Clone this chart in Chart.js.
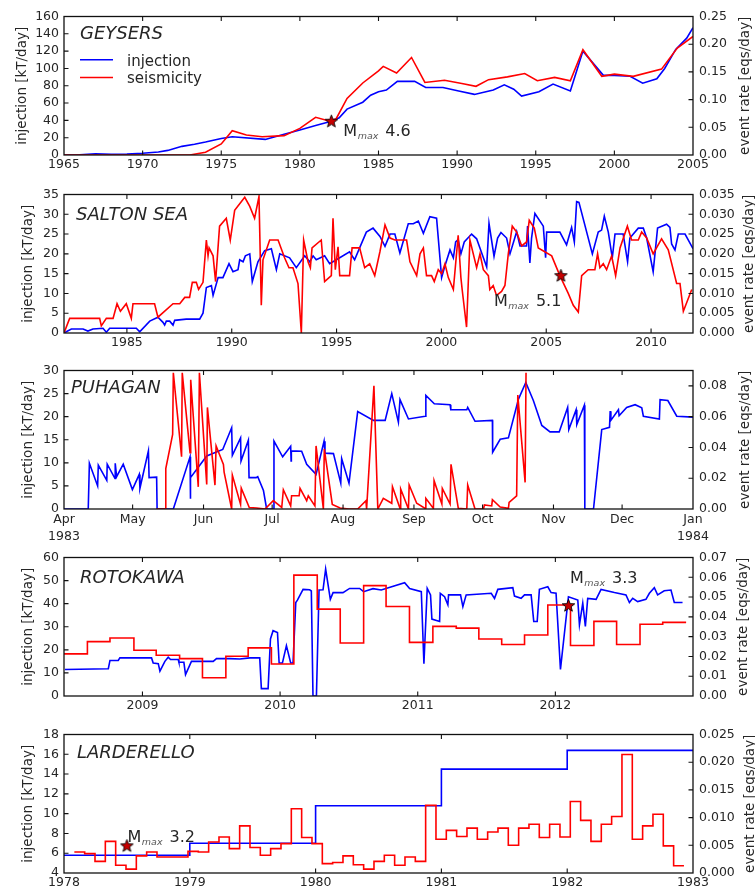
<!DOCTYPE html>
<html><head><meta charset="utf-8">
<script src="https://cdn.jsdelivr.net/npm/chart.js@4.4.1/dist/chart.umd.min.js"></script>
<style>
html,body{margin:0;padding:0;background:#fff;overflow:hidden}
#wrap{position:relative;width:755px;height:893px;overflow:hidden;background:#fff}
#wrap canvas{position:absolute;left:0}
</style></head><body><div id="wrap"></div>
<script>
// ---------------- DATA ----------------
const Y_TITLE = 'injection [kT/day]';
const Y2_TITLE = 'event rate [eqs/day]';
const LEGEND_LABELS = ['injection', 'seismicity'];

// GEYSERS
const GEY_INJ_YEAR = [1965,1966,1967,1968,1969,1970,1971,1971.6,1972.5,1973.3,1974,1975,1975.7,1977.8,1979,1980,1981,1982,1982.5,1983,1984,1984.5,1985,1985.5,1986.2,1987.3,1988,1989.1,1990.1,1991.1,1992.3,1993,1993.6,1994.1,1995.2,1996.1,1997.2,1997.6,1998,1999.3,2000,2001,2001.8,2002.7,2003.2,2003.9,2004.6,2005];
const GEY_INJ = [0,0.3,1.5,0.8,1,2,3.5,5.3,10,12.5,15,19,21,18,24,29,34,39,43,53,61,69,73,75,85,85,78,78,74,70,75,81,76,68,73,82,74,97,120,92,92,91,83,88,100,122,135,147];
const GEY_SEIS_YEAR = [1965,1973,1974,1975,1975.7,1976.6,1977.6,1979,1980,1981,1981.8,1982.3,1983,1984,1985,1985.3,1986.15,1987.1,1987.95,1989.2,1990.3,1991.2,1992,1993.2,1994.3,1995.1,1996.2,1997.2,1998,1999.2,2000,2001.2,2003,2004,2005];
const GEY_SEIS = [0,0,0.005,0.020,0.044,0.036,0.033,0.035,0.048,0.068,0.062,0.065,0.102,0.130,0.152,0.160,0.148,0.176,0.131,0.135,0.129,0.124,0.136,0.141,0.147,0.134,0.140,0.134,0.190,0.142,0.146,0.142,0.155,0.193,0.214];
const GEY_MMAX = {x:1982, y:39, label:'4.6'};
const GEY_XTICKS = ['1965','1970','1975','1980','1985','1990','1995','2000','2005'];
const GEY_YTICKS = ['0','20','40','60','80','100','120','140','160'];
const GEY_Y2TICKS = ['0.00','0.05','0.10','0.15','0.20','0.25'];

// SALTON SEA
const SAL_INJ_YEAR = [1982.00,1982.35,1982.91,1983.14,1983.38,1983.86,1984.02,1984.18,1985.45,1985.61,1986.09,1986.48,1986.72,1986.80,1986.88,1987.04,1987.20,1987.28,1987.83,1988.47,1988.63,1988.79,1989.03,1989.11,1989.35,1989.58,1989.87,1990.06,1990.30,1990.38,1990.54,1990.65,1990.86,1990.98,1991.25,1991.57,1991.89,1992.13,1992.29,1992.76,1993.08,1993.48,1993.72,1993.88,1994.03,1994.43,1994.67,1994.99,1995.62,1995.86,1996.10,1996.42,1996.74,
 1997.07,1997.31,1997.55,1997.78,1998.02,1998.42,1998.66,1998.90,1999.14,1999.45,1999.77,2000.01,2000.17,2000.41,2000.57,2000.68,2000.80,2000.93,2001.09,2001.44,2001.68,2002.16,2002.27,2002.51,2002.68,2002.84,2003.11,2003.27,2003.59,2003.75,2004.06,2004.11,2004.22,2004.30,2004.46,2004.86,2004.97,2005.02,2005.65,2005.97,2006.21,2006.34,2006.45,2006.56,2007.20,2007.48,2007.64,2007.77,2007.96,2008.15,2008.28,2008.67,2008.88,2008.99,2009.39,2009.63,2009.79,2010.10,2010.31,2010.74,2010.90,2010.98,2011.14,2011.30,2011.62,2012.00];
const SAL_INJ = [0,1,1,0.5,1,1.2,0.2,1.2,1.2,0.3,3,4,2.7,2,3,3,2,3.2,3.5,3.5,5,11.5,12,9.5,14,14,17.5,15.5,16,18.5,18,19.5,20,13,18,20.8,21.3,16,20,19,16.5,19.5,18,19.5,18.5,19.5,17.5,18.5,20.5,18.5,21.5,25.5,26.5,
 24.4,21.9,25,25,20.2,27.6,27.6,28.3,25.2,29.4,29,14,17,21,19,23,23.6,20,23,25,23.8,16.7,27.7,19.4,24,25.4,24,20,25.6,22,22,27,17.7,24,30.2,27,19,25.5,25.5,22.3,26.7,23,33.2,33,20,25.5,26,29.5,25.5,19,25,25,18,24,26.5,26.5,24,15.5,26.5,27.5,26.7,22.5,21,25,25,21.3];
const SAL_SEIS_YEAR = [1982.00,1982.27,1983.70,1983.78,1984.02,1984.34,1984.53,1984.69,1984.97,1985.21,1985.29,1986.32,1986.48,1987.20,1987.52,1987.76,1987.99,1988.12,1988.31,1988.42,1988.63,1988.79,1988.87,1988.92,1989.11,1989.23,1989.42,1989.74,1989.93,1990.14,1990.62,1990.86,1991.09,1991.30,1991.41,1991.49,1991.81,1992.21,1992.52,1992.73,1992.92,1993.16,1993.32,1993.43,1993.64,1993.75,1993.83,1994.27,1994.43,1994.75,1994.83,1994.94,1995.07,1995.15,1995.62,1995.74,1996.10,1996.34,1996.58,1996.82,
 1997.07,1997.31,1997.55,1997.78,1998.34,1998.50,1998.82,1998.98,1999.14,1999.29,1999.53,1999.66,1999.85,2000.01,2000.17,2000.33,2000.57,2000.80,2000.93,2000.99,2001.20,2001.36,2001.68,2001.84,2002.00,2002.24,2002.31,2002.47,2002.63,2002.87,2003.03,2003.19,2003.38,2003.59,2003.83,2004.06,2004.19,2004.43,2004.62,2005.26,2005.65,2006.05,2006.29,2006.53,2006.69,2007.00,2007.32,2007.45,2007.56,2007.72,2007.88,2008.12,2008.31,2008.52,2008.87,2009.07,2009.39,2009.55,2009.79,2010.10,2010.50,2010.82,2011.22,2011.38,2011.54,2011.94];
const SAL_SEIS = [0,0.0037,0.0037,0.0018,0.0037,0.0037,0.0074,0.0055,0.0074,0.0037,0.0074,0.0074,0.004,0.0074,0.0074,0.009,0.009,0.0128,0.0128,0.011,0.0128,0.0235,0.0195,0.0215,0.0195,0.013,0.027,0.029,0.0235,0.031,0.0343,0.032,0.029,0.0345,0.007,0.0185,0.0235,0.0235,0.019,0.0165,0.0165,0.0125,0,0.0235,0.018,0.0165,0.0215,0.0235,0.013,0.0145,0.029,0.016,0.0218,0.0145,0.0145,0.0215,0.0215,0.0165,0.0175,0.0145,
 0.0206,0.0273,0.024,0.0235,0.0235,0.018,0.0145,0.02,0.0215,0.0145,0.0145,0.013,0.016,0.015,0.0175,0.014,0.011,0.0247,0.014,0.011,0.0015,0.0235,0.0165,0.02,0.016,0.0145,0.011,0.012,0.0095,0.0105,0.012,0.02,0.027,0.0255,0.022,0.023,0.0285,0.0265,0.0215,0.0195,0.0145,0.01,0.007,0.0053,0.0145,0.016,0.016,0.02,0.0165,0.0175,0.016,0.0195,0.0145,0.0215,0.027,0.0235,0.0235,0.0255,0.024,0.02,0.0238,0.021,0.0125,0.0125,0.0055,0.011];
const SAL_MMAX = {x:2005.7, y:0.0145, label:'5.1'};
const SAL_XTICKS = ['1985','1990','1995','2000','2005','2010'];
const SAL_YTICKS = ['0','5','10','15','20','25','30','35'];
const SAL_Y2TICKS = ['0.000','0.005','0.010','0.015','0.020','0.025','0.030','0.035'];

// PUHAGAN (x = days since 1 Apr 1983)
const PUH_INJ_DAY = [0,10.6,11.1,14.7,15.0,18.7,18.9,22.3,22.4,23.0,25.9,29.9,32.9,33.2,36.9,37.2,40.5,40.7,47.8,55.1,55.2,55.4,62.4,69.4,73.3,73.6,77.2,77.4,80.6,80.9,84.0,84.7,87.2,88.6,91.5,91.8,95.6,99.1,99.3,99.4,103.9,106.1,110.2,113.7,114.1,117.8,121.0,121.4,124.6,128.4,135.3,140.4,143.3,146.2,146.9,150.6,157.9,158.2,161.9,168.8,169.1,176.1,176.5,179.7,187.3,187.4,190.7,194.3,198.7,201.9,205.2,208.9,212.5,216.5,220.2,220.7,223.9,224.2,227.5,227.7,231.5,235.1,238.5,238.8,239.1,242.4,242.7,246.0,249.7,252.6,253.3,260.3,260.6,264.0,267.9,275];
const PUH_INJ = [0,0,9.9,5,9.5,6.2,9.7,6.6,9.9,7,9.7,4.2,7.5,4.5,12.6,6.8,6.9,0,0,11.3,2.2,6.8,11.5,12.9,17.6,11.6,15.4,10.4,14.9,6.8,6.8,7,4,0,0,14.7,11.3,13.6,10.4,12.6,12.5,9.7,7.5,14.7,12.1,12,5.6,10.9,5.6,21.1,19.2,19.2,25,18.8,23.7,19.5,20.1,24.6,22.8,22.6,21.5,21.5,22,19,19.2,12.3,15.1,15.4,23.8,27.4,23.5,18.1,16.7,16.7,22,17.2,21.5,18.3,22.5,0,0,17.2,17.7,21.2,19.2,21.5,20.2,22,22.6,21.9,20.1,19.5,23.7,23.5,20.1,19.9];
const PUH_SEIS_DAY = [40.5,44.2,44.5,47.5,47.8,51.4,51.7,55.1,55.4,58.7,59.2,62.4,62.7,66.0,66.5,69.7,70.0,73.3,73.6,77.2,77.5,81.0,84.2,87.9,91.5,95.2,95.9,99.1,99.5,102.8,103.2,106.1,106.8,109.7,110.2,113.4,113.8,117.3,120.7,124.6,128.4,132.0,132.3,135.5,137.2,139.6,143.3,143.6,146.9,147.2,150.6,150.9,154.2,157.9,158.2,161.5,161.8,165.2,165.4,168.8,169.2,172.4,176.1,176.5,179.7,183.4,183.8,187.0,187.3,190.7,194.3,194.6,197.9,198.4,201.6,202.0];
const PUH_SEIS = [0,0,0.0263,0.0485,0.0885,0.034,0.0885,0.0366,0.084,0.0144,0.0885,0.016,0.066,0.0155,0.041,0.029,0.024,0,0.022,0.003,0.0136,0.001,0.0006,0,0.0054,0.001,0.0125,0.002,0.0086,0.0086,0.0134,0.0054,0.0086,0.002,0.041,0,0.039,0.003,0.0006,0,0,0.0054,0,0.080,0,0.0069,0.0037,0.0145,0.0004,0.013,0,0.0156,0.0037,0.0004,0.0069,0.0004,0.0184,0.0032,0.0134,0.0032,0.029,0.0004,0,0.0156,0,0,0.0026,0.002,0.006,0.0013,0.0004,0.0043,0.0086,0.074,0.0173,0.0885];
const PUH_XTICK_DAYS = [0,30,61,91,122,153,183,214,244,275];
const PUH_XTICKS = [['Apr','1983'],'May','Jun','Jul','Aug','Sep','Oct','Nov','Dec',['Jan','1984']];
const PUH_YTICKS = ['0','5','10','15','20','25','30'];
const PUH_Y2TICKS = ['0.00','0.02','0.04','0.06','0.08'];

// ROTOKAWA
const ROT_INJ_YEAR = [2008.437,2008.752,2008.764,2008.824,2008.836,2009.066,2009.078,2009.115,2009.127,2009.163,2009.187,2009.204,2009.260,2009.265,2009.301,2009.313,2009.356,2009.514,2009.538,2009.635,2009.707,2009.780,2009.852,2009.864,2009.913,2009.930,2009.949,2009.981,2009.993,2010.017,2010.046,2010.077,2010.094,2010.114,2010.126,2010.167,2010.215,2010.227,2010.239,2010.264,2010.283,2010.312,2010.331,2010.365,2010.385,2010.457,2010.505,2010.578,2010.607,2010.675,2010.735,2010.905,2010.941,2011.026,2011.045,2011.069,2011.093,2011.103,2011.159,2011.164,2011.195,2011.219,2011.224,2011.311,2011.328,2011.352,2011.534,2011.558,2011.582,2011.691,2011.703,2011.751,2011.776,2011.824,2011.843,2011.868,2011.884,2011.945,2011.969,2012.005,2012.037,2012.095,2012.163,2012.175,2012.199,2012.218,2012.235,2012.296,2012.332,2012.429,2012.513,2012.538,2012.562,2012.598,2012.658,2012.683,2012.719,2012.743,2012.791,2012.840,2012.864,2012.924];
const ROT_INJ = [11.5,11.8,15.4,15.4,16.5,16.5,14.3,14,10.8,15,16.8,15.8,15.8,14.6,14.6,9.3,15,15,16.2,16.2,16,16.5,16.5,3.2,3.2,24.7,28.3,27.5,14.3,14.3,21.8,14.3,14.3,40.5,41.5,46.2,46,45.5,0,0,45.9,46,55,41.9,44.8,44.8,46.6,46.6,45.2,46.5,45.9,49.1,46.6,45.2,14,46.6,43.8,33.3,32.3,44.5,43,39.5,43.8,43.8,38.7,43.8,44.5,42.3,46.2,46.9,43.3,42.3,43.8,43.8,32.3,32.3,46.2,47.3,44.8,44.5,11.5,43,41.6,30.8,40.2,30.1,42.3,41.9,46.2,44.8,43.8,40.5,42.3,40.9,41.9,44.5,46.9,43.8,45.6,45.9,40.5,40.5];
const ROT_SEIS_BINS = [2008.43,2008.60,2008.764,2008.938,2009.10,2009.27,2009.436,2009.606,2009.768,2009.937,2010.10,2010.27,2010.437,2010.607,2010.77,2010.94,2011.11,2011.28,2011.444,2011.61,2011.776,2011.945,2012.11,2012.28,2012.445,2012.615,2012.78,2012.95];
const ROT_SEIS = [0.0213,0.0275,0.0293,0.0231,0.0206,0.0189,0.0092,0.0201,0.0243,0.0162,0.0611,0.0439,0.0268,0.0558,0.0452,0.0271,0.0352,0.0343,0.0288,0.026,0.0308,0.046,0.0255,0.0377,0.026,0.0363,0.0372];
const ROT_MMAX = {x:2012.095, y:0.0457, label:'3.3'};
const ROT_XTICKS = ['2009','2010','2011','2012'];
const ROT_YTICKS = ['0','10','20','30','40','50','60'];
const ROT_Y2TICKS = ['0.00','0.01','0.02','0.03','0.04','0.05','0.06','0.07'];

// LARDERELLO
const LAR_INJ_YEAR = [1978,1979,1980,1981,1982,1983];
const LAR_INJ = [5.8,7.0,10.8,14.5,16.4];
const LAR_SEIS_BIN_DAYS = 30;   // 30-day bins, first bin starts 30 days after 1 Jan 1978
const LAR_SEIS = [0.0038,0.0035,0.0021,0.0057,0.0014,0.0007,0.0031,0.0038,0.0029,0.0029,0.0029,0.0039,0.0038,0.0056,0.0065,0.0044,0.0085,0.0046,0.0032,0.0044,0.0053,0.0116,0.0064,0.0053,0.0017,0.0019,0.0031,0.0015,0.0007,0.0021,0.0032,0.0014,0.0029,0.0021,0.0122,0.0061,0.0077,0.0066,0.0081,0.0061,0.0074,0.0081,0.0050,0.0081,0.0088,0.0064,0.0088,0.0065,0.0129,0.0095,0.0057,0.0088,0.0102,0.0214,0.0061,0.0085,0.0106,0.0049,0.0013];
const LAR_MMAX = {x:1978.5, y:6.75, label:'3.2'};
const LAR_XTICKS = ['1978','1979','1980','1981','1982','1983'];
const LAR_YTICKS = ['4','6','8','10','12','14','16','18'];
const LAR_Y2TICKS = ['0.000','0.005','0.010','0.015','0.020','0.025'];

// ---------------- RENDER ----------------
const FONT = 'DejaVu Sans';
const TXT = '#262626';
const BLUE = '#0000ff', RED = '#ff0000';
const LW = 1.6;
Chart.defaults.font.family = FONT;
const wrap = document.getElementById('wrap');

function makeStar() {
  const c = document.createElement('canvas'); c.width = 15; c.height = 15;
  const g = c.getContext('2d');
  g.beginPath();
  for (let i = 0; i < 10; i++) {
    const r = i % 2 ? 2.8 : 6.6, a = -Math.PI / 2 + i * Math.PI / 5;
    g.lineTo(7.5 + r * Math.cos(a), 7.8 + r * Math.sin(a));
  }
  g.closePath(); g.fillStyle = '#c80000'; g.fill();
  g.lineWidth = 0.9; g.strokeStyle = '#000'; g.stroke();
  return c;
}
const STAR = makeStar();

const xy = (xs, ys) => xs.map((x, i) => ({x, y: ys[i]}));
const steps = (bounds, vals) => { const p = vals.map((v, i) => ({x: bounds[i], y: v})); p.push({x: bounds[vals.length], y: vals[vals.length - 1]}); return p; };
const num = a => a.map(parseFloat);

function lineDs(data, axis, color, order, stepped) {
  return {data, yAxisID: axis, borderColor: color, borderWidth: LW, pointRadius: 0, fill: false, tension: 0, stepped: stepped || false, order};
}
function starDs(m, axis) {
  return {data: [{x: m.x, y: m.y}], yAxisID: axis, showLine: false, pointStyle: STAR, pointRadius: 7, order: 0};
}

const LAR_SEIS_BOUNDS = [];
for (let k = 1; k <= LAR_SEIS.length + 1; k++) LAR_SEIS_BOUNDS.push(1978 + LAR_SEIS_BIN_DAYS * k / 365.25);

const PANELS = [
  {top: 15, title: 'GEYSERS', tx: 80, tdy: 22.6, ltx: 22, rtx: 745,
   xMin: 1965, xMax: 2005, xVals: num(GEY_XTICKS), xLabels: GEY_XTICKS,
   yMin: 0, yMax: 160, yLabels: GEY_YTICKS, y2Min: 0, y2Max: 0.25, y2Labels: GEY_Y2TICKS,
   datasets: [starDs(GEY_MMAX, 'y'), lineDs(xy(GEY_SEIS_YEAR, GEY_SEIS), 'y2', RED, 1), lineDs(xy(GEY_INJ_YEAR, GEY_INJ), 'y', BLUE, 2)],
   mmax: GEY_MMAX, mAxis: 'y', mdx: 12, mdy: 15, legend: true},
  {top: 193, title: 'SALTON SEA', tx: 76, tdy: 25, ltx: 28, rtx: 749,
   xMin: 1982, xMax: 2012, xVals: num(SAL_XTICKS), xLabels: SAL_XTICKS,
   yMin: 0, yMax: 35, yLabels: SAL_YTICKS, y2Min: 0, y2Max: 0.035, y2Labels: SAL_Y2TICKS,
   datasets: [starDs(SAL_MMAX, 'y2'), lineDs(xy(SAL_SEIS_YEAR, SAL_SEIS), 'y2', RED, 1), lineDs(xy(SAL_INJ_YEAR, SAL_INJ), 'y', BLUE, 2)],
   mmax: SAL_MMAX, mAxis: 'y2', mdx: -67, mdy: 30},
  {top: 369, title: 'PUHAGAN', tx: 71, tdy: 22.7, ltx: 28, rtx: 745, xh: 42, xlh: 1.35,
   xMin: 0, xMax: 275, xVals: PUH_XTICK_DAYS, xLabels: PUH_XTICKS,
   yMin: 0, yMax: 30, yLabels: PUH_YTICKS, y2Min: 0, y2Max: 0.09, y2Labels: PUH_Y2TICKS,
   datasets: [lineDs(xy(PUH_SEIS_DAY, PUH_SEIS), 'y2', RED, 1), lineDs(xy(PUH_INJ_DAY, PUH_INJ), 'y', BLUE, 2)]},
  {top: 556, title: 'ROTOKAWA', tx: 80, tdy: 25.3, ltx: 28, rtx: 743,
   xMin: 2008.43, xMax: 2013.0, xVals: num(ROT_XTICKS), xLabels: ROT_XTICKS,
   yMin: 0, yMax: 60, yLabels: ROT_YTICKS, y2Min: 0, y2Max: 0.07, y2Labels: ROT_Y2TICKS,
   datasets: [starDs(ROT_MMAX, 'y2'), lineDs(steps(ROT_SEIS_BINS, ROT_SEIS), 'y2', RED, 1, 'before'), lineDs(xy(ROT_INJ_YEAR, ROT_INJ), 'y', BLUE, 2)],
   mmax: ROT_MMAX, mAxis: 'y2', mdx: 1.6, mdy: -22.3},
  {top: 733, title: 'LARDERELLO', tx: 77, tdy: 23.3, ltx: 28, rtx: 750,
   xMin: 1978, xMax: 1983, xVals: num(LAR_XTICKS), xLabels: LAR_XTICKS,
   yMin: 4, yMax: 18, yLabels: LAR_YTICKS, y2Min: 0, y2Max: 0.025, y2Labels: LAR_Y2TICKS,
   datasets: [starDs(LAR_MMAX, 'y'), lineDs(steps(LAR_SEIS_BOUNDS, LAR_SEIS), 'y2', RED, 1, 'before'), lineDs(steps(LAR_INJ_YEAR, LAR_INJ), 'y', BLUE, 2, 'before')],
   mmax: LAR_MMAX, mAxis: 'y', mdx: 0.6, mdy: -4}
];

function framePlugin(p) {
  return {
    id: 'frame',
    afterDraw(chart) {
      const ctx = chart.ctx, ca = chart.chartArea;
      const sx = chart.scales.x, sy = chart.scales.y, sy2 = chart.scales.y2;
      const TL = 4.5;
      ctx.save();
      ctx.strokeStyle = '#111'; ctx.lineWidth = 1.1;
      ctx.beginPath();
      sx.ticks.forEach(t => {
        const px = sx.getPixelForValue(t.value);
        if (px <= ca.left + 1 || px >= ca.right - 1) return;
        ctx.moveTo(px, ca.bottom); ctx.lineTo(px, ca.bottom - TL);
        ctx.moveTo(px, ca.top); ctx.lineTo(px, ca.top + TL);
      });
      sy.ticks.forEach(t => {
        const py = sy.getPixelForValue(t.value);
        if (py <= ca.top + 1 || py >= ca.bottom - 1) return;
        ctx.moveTo(ca.left, py); ctx.lineTo(ca.left + TL, py);
      });
      sy2.ticks.forEach(t => {
        const py = sy2.getPixelForValue(t.value);
        if (py <= ca.top + 1 || py >= ca.bottom - 1) return;
        ctx.moveTo(ca.right, py); ctx.lineTo(ca.right - TL, py);
      });
      ctx.stroke();
      ctx.lineWidth = 1.3;
      ctx.strokeRect(ca.left, ca.top, ca.right - ca.left, ca.bottom - ca.top);

      ctx.fillStyle = TXT;
      // panel title
      ctx.font = 'italic 18px "' + FONT + '"';
      ctx.textAlign = 'left'; ctx.textBaseline = 'alphabetic';
      ctx.fillText(p.title, p.tx, ca.top + p.tdy);
      // axis titles
      ctx.font = '13.5px "' + FONT + '"';
      const cy = (ca.top + ca.bottom) / 2;
      [[p.ltx, Y_TITLE], [p.rtx, Y2_TITLE]].forEach(([x, s]) => {
        ctx.save(); ctx.translate(x, cy); ctx.rotate(-Math.PI / 2);
        ctx.textAlign = 'center'; ctx.textBaseline = 'middle';
        ctx.fillText(s, 0, 0); ctx.restore();
      });
      // legend
      if (p.legend) {
        const rows = [[BLUE, LEGEND_LABELS[0], 43.3], [RED, LEGEND_LABELS[1], 61]];
        ctx.font = '15px "' + FONT + '"';
        ctx.textAlign = 'left'; ctx.textBaseline = 'alphabetic';
        rows.forEach(([c, s, dy]) => {
          ctx.strokeStyle = c; ctx.lineWidth = LW;
          ctx.beginPath(); ctx.moveTo(80, ca.top + dy); ctx.lineTo(113, ca.top + dy); ctx.stroke();
          ctx.fillStyle = TXT; ctx.fillText(s, 127, ca.top + dy + 5.7);
        });
      }
      // Mmax annotation
      if (p.mmax) {
        const px = sx.getPixelForValue(p.mmax.x), py = chart.scales[p.mAxis].getPixelForValue(p.mmax.y);
        let tx = px + p.mdx; const ty = py + p.mdy;
        ctx.textAlign = 'left'; ctx.textBaseline = 'alphabetic';
        ctx.font = '16px "' + FONT + '"'; ctx.fillStyle = TXT;
        ctx.fillText('M', tx, ty); tx += ctx.measureText('M').width + 0.5;
        ctx.font = 'italic 9.5px "' + FONT + '"'; ctx.fillStyle = '#555';
        ctx.fillText('max', tx, ty + 3); tx += ctx.measureText('max').width + 7;
        ctx.font = '16px "' + FONT + '"'; ctx.fillStyle = TXT;
        ctx.fillText(p.mmax.label, tx, ty);
      }
      ctx.restore();
    }
  };
}

PANELS.forEach(p => {
  const PT = 12, H = 140, XH = p.xh || 30;
  const cv = document.createElement('canvas');
  cv.width = 755; cv.height = PT + H + XH;
  cv.style.width = '755px'; cv.style.height = (PT + H + XH) + 'px';
  cv.style.top = (p.top - PT) + 'px';
  wrap.appendChild(cv);
  const tickFont = {family: FONT, size: 12.5};
  const yAxis = (pos, min, max, labels, w, pad) => ({
    type: 'linear', position: pos, min, max,
    grid: {display: false, drawTicks: false}, border: {display: false},
    ticks: {color: TXT, font: tickFont, padding: pad, autoSkip: false,
      callback: (v) => { const i = labels.findIndex(l => Math.abs(parseFloat(l) - v) < 1e-9); return i >= 0 ? labels[i] : ''; }},
    afterBuildTicks: s => { s.ticks = labels.map(l => ({value: parseFloat(l)})); },
    afterFit: s => { s.width = w; }
  });
  new Chart(cv, {
    type: 'line',
    data: {datasets: p.datasets},
    options: {
      responsive: false, animation: false, devicePixelRatio: 1, events: [],
      layout: {padding: {top: PT, left: 0, right: 0, bottom: 0}},
      plugins: {legend: {display: false}, tooltip: {enabled: false}},
      scales: {
        x: {type: 'linear', position: 'bottom', min: p.xMin, max: p.xMax,
          grid: {display: false, drawTicks: false}, border: {display: false},
          ticks: {color: TXT, font: {family: FONT, size: 12.5, lineHeight: p.xlh || 1.2}, padding: 2, autoSkip: false, maxRotation: 0, minRotation: 0,
            callback: (v) => { const i = p.xVals.findIndex(t => Math.abs(t - v) < 1e-9); return i >= 0 ? p.xLabels[i] : ''; }},
          afterBuildTicks: s => { s.ticks = p.xVals.map(v => ({value: v})); },
          afterFit: s => { s.height = XH; }},
        y: yAxis('left', p.yMin, p.yMax, p.yLabels, 64, 5),
        y2: yAxis('right', p.y2Min, p.y2Max, p.y2Labels, 62, 6)
      }
    },
    plugins: [framePlugin(p)]
  });
});
</script></body></html>
